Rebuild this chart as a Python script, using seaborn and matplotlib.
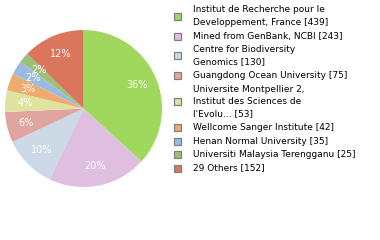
import matplotlib
matplotlib.use("Agg")
import matplotlib.pyplot as plt
from matplotlib.patches import Rectangle
import seaborn as sns

labels = [
    "Institut de Recherche pour le\nDevelloppement, France",
    "Mined from GenBank, NCBI",
    "Centre for Biodiversity\nGenomics",
    "Guangdong Ocean University",
    "Universite Montpellier 2,\nInstitut des Sciences de\nl'Evolu...",
    "Wellcome Sanger Institute",
    "Henan Normal University",
    "Universiti Malaysia Terengganu",
    "29 Others",
]
labels[0] = "Institut de Recherche pour le\nDeveloppement, France"
counts = [439, 243, 130, 75, 53, 42, 35, 25, 152]
colors = ["#9fd85c", "#dfbfe0", "#ccd9e6", "#dfa59e", "#dee39f",
          "#eeab6c", "#9bbadf", "#9cc176", "#d9765b"]

sns.set_style("white")
plt.rcParams['font.family'] = ['DejaVu Sans']

W, H = 380, 240
fig = plt.figure(figsize=(W / 100, H / 100), dpi=100)
fig.patch.set_facecolor("white")

cx, cy, r = 83.5, 108.5, 78.5
ax = fig.add_axes([(cx - r) / W, (H - cy - r) / H, 2 * r / W, 2 * r / H])
total = sum(counts)
wedges, texts, autotexts = ax.pie(
    counts, colors=colors, startangle=90, counterclock=False,
    autopct=lambda p: f"{int(p)}%", pctdistance=0.75,
    wedgeprops=dict(linewidth=0, antialiased=True),
    textprops=dict(color="white", fontsize=7),
)
ax.set_xlim(-1, 1)
ax.set_ylim(-1, 1)
ax.set_aspect("auto")
ax.axis("off")

# legend (manual layout in pixel coordinates)
line_h = 12.5
entry_gap = 13.5
y = 10.0
box = 7
tx = 193
bx = 174
for lab, n, c in zip(labels, counts, colors):
    lines = f"{lab} [{n}]".split("\n")
    nl = len(lines)
    for i, ln in enumerate(lines):
        fig.text(tx / W, 1 - (y + i * line_h) / H, ln, fontsize=6.5,
                 color="black", va="center", ha="left")
    yc = y + (nl - 1) * line_h / 2
    fig.patches.append(Rectangle(((bx) / W, 1 - (yc + box / 2) / H),
                                 box / W, box / H, transform=fig.transFigure,
                                 facecolor=c, edgecolor="#808080", linewidth=0.9))
    y += (nl - 1) * line_h + entry_gap

fig.savefig("out.png", dpi=100)
